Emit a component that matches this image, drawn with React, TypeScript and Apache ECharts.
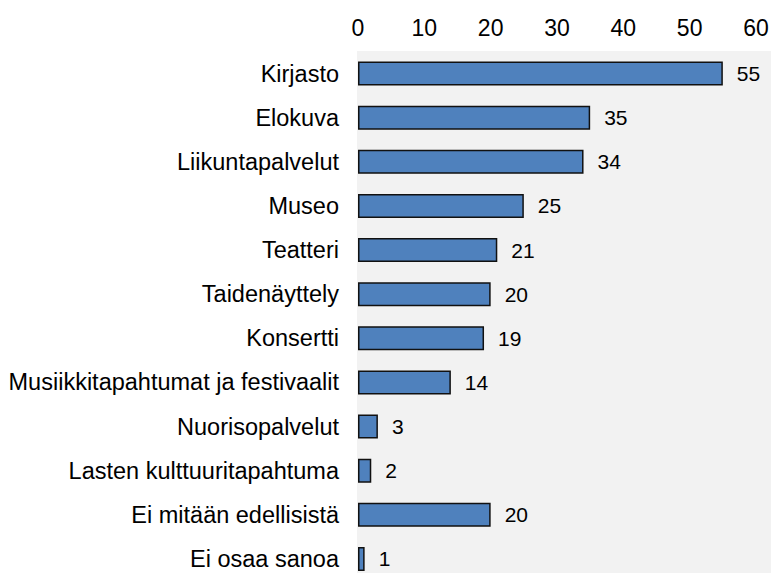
import React, { useEffect, useRef } from "react";
import * as echarts from "echarts";

const categories = [
  "Kirjasto",
  "Elokuva",
  "Liikuntapalvelut",
  "Museo",
  "Teatteri",
  "Taidenäyttely",
  "Konsertti",
  "Musiikkitapahtumat ja festivaalit",
  "Nuorisopalvelut",
  "Lasten kulttuuritapahtuma",
  "Ei mitään edellisistä",
  "Ei osaa sanoa",
];
const values = [55, 35, 34, 25, 21, 20, 19, 14, 3, 2, 20, 1];
const xTicks = { min: 0, max: 60, interval: 10 };

export default function App() {
  const ref = useRef<HTMLDivElement>(null);
  useEffect(() => {
    if (!ref.current) return;
    const chart = echarts.init(ref.current, null, { renderer: "svg" });
    const font = "Liberation Sans, Arial, sans-serif";
    chart.setOption({
      animation: false,
      backgroundColor: "#ffffff",
      graphic: [
        {
          type: "rect",
          z: -10,
          silent: true,
          shape: { x: 357, y: 51, width: 430, height: 540 },
          style: { fill: "#f2f2f2" },
        },
      ],
      grid: { left: 358, top: 51.5, width: 398, height: 539 },
      xAxis: {
        type: "value",
        position: "top",
        min: xTicks.min,
        max: xTicks.max,
        interval: xTicks.interval,
        axisLine: { show: false },
        axisTick: { show: false },
        splitLine: { show: false },
        axisLabel: {
          color: "#000",
          fontSize: 23,
          fontFamily: font,
          margin: 12,
        },
      },
      yAxis: {
        type: "category",
        inverse: true,
        data: categories,
        axisLine: { show: false },
        axisTick: { show: false },
        axisLabel: {
          color: "#000",
          fontSize: 23.5,
          fontFamily: font,
          margin: 19,
        },
      },
      series: [
        {
          type: "bar",
          data: values,
          barWidth: 24,
          itemStyle: {
            color: "#4f81bd",
            borderColor: "#111",
            borderWidth: 1.5,
          },
          label: {
            show: true,
            position: "right",
            distance: 14,
            color: "#000",
            fontSize: 21,
            fontFamily: font,
          },
        },
      ],
    });
    return () => chart.dispose();
  }, []);
  return <div ref={ref} style={{ width: 779, height: 581, margin: -8 }} />;
}
